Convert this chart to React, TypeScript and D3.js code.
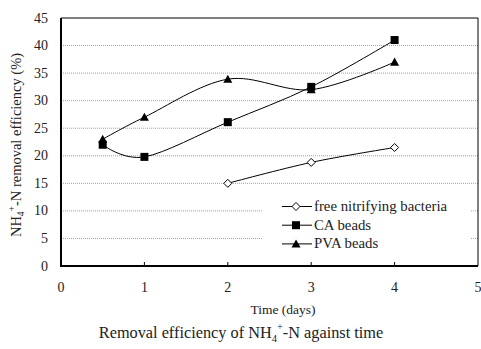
import React from "react";
import * as d3 from "d3";

// data
const freeDays = [2, 3, 4];
const freeValues = [15, 18.8, 21.5];
const caDays = [0.5, 1, 2, 3, 4];
const caValues = [22, 19.8, 26.1, 32.5, 41];
const pvaDays = [0.5, 1, 2, 3, 4];
const pvaValues = [23, 27, 33.9, 32, 37];
const xTicks = [0, 1, 2, 3, 4, 5];
const yTicks = [0, 5, 10, 15, 20, 25, 30, 35, 40, 45];
const legendLabels = ["free nitrifying bacteria", "CA beads", "PVA beads"];

const W = 481;
const H = 349;
const font = "Liberation Serif, DejaVu Serif, Times New Roman, serif";

export default function App() {
  const x = d3.scaleLinear().domain([0, 5]).range([61, 478]);
  const y = d3.scaleLinear().domain([0, 45]).range([266, 18]);

  const line = d3
    .line<[number, number]>()
    .x((d) => x(d[0]))
    .y((d) => y(d[1]))
    .curve(d3.curveCatmullRom.alpha(0));

  const series = [
    { days: freeDays, vals: freeValues, shape: "diamond" },
    { days: caDays, vals: caValues, shape: "square" },
    { days: pvaDays, vals: pvaValues, shape: "triangle" },
  ];

  const marker = (shape: string, cx: number, cy: number, key: string) => {
    if (shape === "diamond") {
      const s = 4;
      return (
        <path
          key={key}
          d={`M${cx},${cy - s}L${cx + s},${cy}L${cx},${cy + s}L${cx - s},${cy}Z`}
          fill="#fff"
          stroke="#000"
          strokeWidth={1}
        />
      );
    }
    if (shape === "square") {
      return <rect key={key} x={cx - 4} y={cy - 4} width={8} height={8} fill="#000" />;
    }
    const s = 4.5;
    return (
      <path
        key={key}
        d={`M${cx},${cy - s}L${cx + s},${cy + s * 0.8}L${cx - s},${cy + s * 0.8}Z`}
        fill="#000"
      />
    );
  };

  const lg = { x: 263, y: 190, w: 207, h: 64 };

  return (
    <svg width={W} height={H} style={{ position: "absolute", left: 0, top: 0, fontFamily: font }}>
      <rect width={W} height={H} fill="#fff" />
      {/* grid */}
      {yTicks.slice(1, -1).map((t) => (
        <line
          key={t}
          x1={x(0)}
          x2={x(5)}
          y1={y(t)}
          y2={y(t)}
          stroke="#a0a0a0"
          strokeWidth={1}
          strokeDasharray="1,1"
        />
      ))}
      {/* frame */}
      <line x1={x(0)} x2={x(5)} y1={y(45)} y2={y(45)} stroke="#000" strokeWidth={1} />
      <line x1={x(5)} x2={x(5)} y1={y(45)} y2={y(0)} stroke="#000" strokeWidth={1} />
      {/* legend background */}
      <rect x={lg.x} y={lg.y} width={lg.w} height={lg.h} fill="#fff" />
      {/* series */}
      {series.map((s, i) => (
        <path
          key={i}
          d={line(s.days.map((d, j) => [d, s.vals[j]] as [number, number])) || ""}
          fill="none"
          stroke="#000"
          strokeWidth={1}
        />
      ))}
      {series.map((s, i) =>
        s.days.map((d, j) => marker(s.shape, x(d), y(s.vals[j]), `m${i}-${j}`))
      )}
      {/* axes */}
      <line x1={x(0)} x2={x(0)} y1={y(45)} y2={y(0) + 1} stroke="#000" strokeWidth={2} />
      <line x1={x(0) - 1} x2={x(5)} y1={y(0)} y2={y(0)} stroke="#000" strokeWidth={2} />
      {xTicks.slice(1, -1).map((t) => (
        <line key={t} x1={x(t)} x2={x(t)} y1={y(0)} y2={y(0) - 4} stroke="#000" strokeWidth={1} />
      ))}
      {yTicks.map((t) => (
        <text key={t} x={48} y={y(t) + 4.5} textAnchor="end" fontSize={14} fill="#222">
          {t}
        </text>
      ))}
      {xTicks.map((t) => (
        <text key={t} x={x(t)} y={292} textAnchor="middle" fontSize={14} fill="#222">
          {t}
        </text>
      ))}
      <text x={283} y={314} textAnchor="middle" fontSize={13.5} fill="#222">
        Time (days)
      </text>
      <text
        transform={`translate(21,145) rotate(-90)`}
        textAnchor="middle"
        fontSize={14.5}
        fill="#222"
      >
        NH<tspan fontSize={9.5} dy={3}>4</tspan>
        <tspan fontSize={9.5} dy={-9}>+</tspan>
        <tspan dy={6}>-N removal efficiency (%)</tspan>
      </text>
      {/* legend */}
      {legendLabels.map((l, i) => {
        const ly = 206.5 + i * 18.7;
        return (
          <g key={l}>
            <line x1={282} x2={312} y1={ly} y2={ly} stroke="#000" strokeWidth={1} />
            {marker(series[i].shape, 296, ly, `lg${i}`)}
            <text x={314} y={ly + 4.5} fontSize={14.8} fill="#222">
              {l}
            </text>
          </g>
        );
      })}
      {/* caption */}
      <text x={241} y={338} textAnchor="middle" fontSize={16.3} fill="#222">
        Removal efficiency of NH<tspan fontSize={10.5} dy={4}>4</tspan>
        <tspan fontSize={10.5} dy={-12}>+</tspan>
        <tspan dy={8}>-N against time</tspan>
      </text>
    </svg>
  );
}
